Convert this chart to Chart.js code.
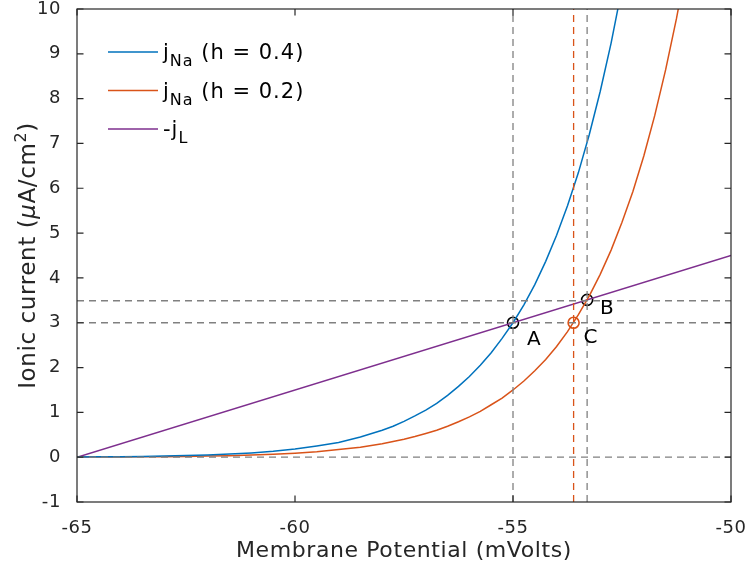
<!DOCTYPE html>
<html>
<head>
<meta charset="utf-8">
<script src="https://cdn.jsdelivr.net/npm/chart.js@4.4.0/dist/chart.umd.min.js"></script>
<style>
  html, body { margin: 0; padding: 0; background: #fff; }
</style>
</head>
<body>
<canvas id="myChart" width="750" height="567"></canvas>
<script>
// Membrane potential samples (mV)
const voltage = [-65, -64.5, -64, -63.5, -63, -62.5, -62, -61.5, -61, -60.5, -60, -59.5, -59, -58.5, -58,
    -57.75, -57.5, -57.25, -57, -56.75, -56.5, -56.25, -56, -55.75, -55.5, -55.25, -55,
    -54.75, -54.5, -54.25, -54, -53.75, -53.5, -53.25, -53, -52.75, -52.5, -52.25, -52,
    -51.75, -51.5, -51.25, -51];
// Sodium current for h = 0.4 (uA/cm^2)
const jNaHigh = [0.006, 0.008, 0.012, 0.017, 0.025, 0.035, 0.049, 0.069, 0.095, 0.13, 0.18, 0.25, 0.33, 0.45, 0.60,
    0.69, 0.80, 0.92, 1.05, 1.20, 1.38, 1.58, 1.80, 2.05, 2.33, 2.65, 3.0,
    3.40, 3.85, 4.37, 4.95, 5.61, 6.35, 7.20, 8.16, 9.24, 10.47, 11.87, 13.45,
    15.24, 17.27, 19.57, 22.18];
// Sodium current for h = 0.2 (uA/cm^2)
const jNaLow = [0.003, 0.004, 0.006, 0.009, 0.012, 0.017, 0.025, 0.034, 0.048, 0.066, 0.09, 0.12, 0.17, 0.22, 0.30,
    0.35, 0.40, 0.46, 0.53, 0.60, 0.69, 0.79, 0.90, 1.02, 1.17, 1.32, 1.5,
    1.70, 1.93, 2.18, 2.47, 2.80, 3.18, 3.60, 4.08, 4.62, 5.24, 5.93, 6.72,
    7.62, 8.64, 9.79, 11.09];
// Leak current (negated), straight line
const leakV = [-65, -50];
const leakJ = [0, 4.5];

// Equilibrium points A, B, C
const eqLabels = ['A', 'B', 'C'];
const eqV = [-55, -53.3, -53.61];
const eqJ = [3.0, 3.51, 3.0];

// Dashed guide lines
const guideX = [-55, -53.3];      // gray verticals
const guideXOrange = [-53.61];    // orange vertical
const guideY = [0, 3.0, 3.49];    // gray horizontals

const xMin = -65, xMax = -50, yMin = -1, yMax = 10;

const blue = '#0072BD';
const orange = '#D95319';
const purple = '#7E2F8E';
const gray = '#808080';
const ink = '#262626';
const fontName = '"DejaVu Sans", sans-serif';

function toPoints(xs, ys) {
    return xs.map((x, i) => ({ x: x, y: ys[i] }));
}

const datasets = [];

// dashed guides first, so they sit under the curves
guideY.forEach(y => datasets.push({
    data: [{ x: xMin, y: y }, { x: xMax, y: y }],
    borderColor: gray, borderWidth: 1.3, borderDash: [7, 5], pointRadius: 0
}));
guideX.forEach(x => datasets.push({
    data: [{ x: x, y: yMin }, { x: x, y: yMax }],
    borderColor: gray, borderWidth: 1.3, borderDash: [7, 5], pointRadius: 0
}));
guideXOrange.forEach(x => datasets.push({
    data: [{ x: x, y: yMin }, { x: x, y: yMax }],
    borderColor: orange, borderWidth: 1.3, borderDash: [7, 5], pointRadius: 0
}));

datasets.push({ data: toPoints(voltage, jNaHigh), borderColor: blue, borderWidth: 1.5, pointRadius: 0 });
datasets.push({ data: toPoints(voltage, jNaLow), borderColor: orange, borderWidth: 1.5, pointRadius: 0 });
datasets.push({ data: toPoints(leakV, leakJ), borderColor: purple, borderWidth: 1.5, pointRadius: 0 });

// open circle markers
const markerColors = ['#000', '#000', orange];
eqV.forEach((v, i) => datasets.push({
    data: [{ x: v, y: eqJ[i] }],
    showLine: false, pointRadius: 5.5, pointBorderWidth: 1.6,
    pointBorderColor: markerColors[i], pointBackgroundColor: 'rgba(0,0,0,0)'
}));

// legend entries drawn by hand because of the subscripts
const legendItems = [
    { color: blue, main: 'j', sub: 'Na', rest: ' (h = 0.4)' },
    { color: orange, main: 'j', sub: 'Na', rest: ' (h = 0.2)' },
    { color: purple, main: '-j', sub: 'L', rest: '' }
];

const decorations = {
    id: 'decorations',
    beforeDraw(chart) {
        chart.ctx.letterSpacing = '0.6px';
    },
    afterDraw(chart) {
        const ctx = chart.ctx;
        const a = chart.chartArea;
        const xs = chart.scales.x;
        const ys = chart.scales.y;
        ctx.save();
        ctx.letterSpacing = '0.6px';

        // box and inward ticks
        ctx.strokeStyle = ink;
        ctx.lineWidth = 1.2;
        ctx.strokeRect(a.left, a.top, a.right - a.left, a.bottom - a.top);
        const tl = 6.5;
        ctx.beginPath();
        xs.ticks.forEach(t => {
            const px = xs.getPixelForValue(t.value);
            ctx.moveTo(px, a.bottom); ctx.lineTo(px, a.bottom - tl);
            ctx.moveTo(px, a.top); ctx.lineTo(px, a.top + tl);
        });
        ys.ticks.forEach(t => {
            const py = ys.getPixelForValue(t.value);
            ctx.moveTo(a.left, py); ctx.lineTo(a.left + tl, py);
            ctx.moveTo(a.right, py); ctx.lineTo(a.right - tl, py);
        });
        ctx.stroke();

        // point labels
        ctx.fillStyle = '#000';
        ctx.font = '20px ' + fontName;
        ctx.textBaseline = 'alphabetic';
        const offs = [[14, 22], [13, 14], [10, 20]];
        eqLabels.forEach((lab, i) => {
            const px = xs.getPixelForValue(eqV[i]);
            const py = ys.getPixelForValue(eqJ[i]);
            ctx.fillText(lab, px + offs[i][0], py + offs[i][1]);
        });

        // legend
        ctx.letterSpacing = '1px';
        const lx = a.left + 31, ly = a.top + 43, gap = 38.5;
        legendItems.forEach((it, i) => {
            const y = ly + i * gap;
            ctx.strokeStyle = it.color;
            ctx.lineWidth = 1.5;
            ctx.beginPath();
            ctx.moveTo(lx, y); ctx.lineTo(lx + 50, y);
            ctx.stroke();
            ctx.fillStyle = '#000';
            let tx = lx + 55;
            ctx.font = '21px ' + fontName;
            ctx.fillText(it.main, tx, y + 7);
            tx += ctx.measureText(it.main).width;
            ctx.font = '16px ' + fontName;
            ctx.fillText(it.sub, tx, y + 14);
            tx += ctx.measureText(it.sub).width;
            ctx.font = '21px ' + fontName;
            ctx.fillText(it.rest, tx, y + 7);
        });

        // axis titles
        ctx.letterSpacing = '0.6px';
        ctx.fillStyle = ink;
        ctx.font = '22px ' + fontName;
        ctx.textAlign = 'center';
        ctx.fillText('Membrane Potential (mVolts)', (a.left + a.right) / 2, 557);

        // y title with italic mu and superscript 2
        const parts = [
            { t: 'Ionic current (', f: '23px ', dy: 0 },
            { t: '\u03bc', f: 'italic 23px ', dy: 0 },
            { t: 'A/cm', f: '23px ', dy: 0 },
            { t: '2', f: '16px ', dy: -9 },
            { t: ')', f: '23px ', dy: 0 }
        ];
        ctx.textAlign = 'left';
        let total = 0;
        parts.forEach(p => { ctx.font = p.f + fontName; p.w = ctx.measureText(p.t).width; total += p.w; });
        ctx.translate(35, (a.top + a.bottom) / 2);
        ctx.rotate(-Math.PI / 2);
        let cx = -total / 2;
        parts.forEach(p => {
            ctx.font = p.f + fontName;
            ctx.fillText(p.t, cx, p.dy);
            cx += p.w;
        });
        ctx.restore();
    }
};

const ctx = document.getElementById('myChart').getContext('2d');
const myChart = new Chart(ctx, {
    type: 'scatter',
    data: { datasets: datasets },
    options: {
        responsive: false,
        animation: false,
        devicePixelRatio: 1,
        showLine: true,
        layout: { padding: { top: 9, right: 19, left: 0, bottom: 0 } },
        plugins: { legend: { display: false }, tooltip: { enabled: false } },
        scales: {
            x: {
                type: 'linear', min: xMin, max: xMax,
                afterFit(scale) {
                    scale.height = 65;
                    scale.paddingLeft = 0;
                    scale.paddingRight = 0;
                },
                grid: { display: false },
                border: { display: false },
                ticks: { stepSize: 5, color: ink, padding: 8, font: { family: fontName, size: 18 }, maxRotation: 0 }
            },
            y: {
                type: 'linear', min: yMin, max: yMax,
                afterFit(scale) {
                    scale.width = 77;
                    scale.paddingTop = 0;
                    scale.paddingBottom = 0;
                },
                grid: { display: false },
                border: { display: false },
                ticks: { stepSize: 1, color: ink, padding: 8, font: { family: fontName, size: 18 } }
            }
        }
    },
    plugins: [decorations]
});
</script>
</body>
</html>
